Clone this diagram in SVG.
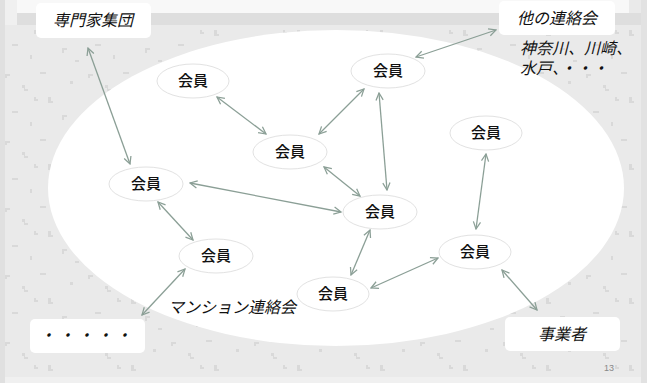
<svg xmlns="http://www.w3.org/2000/svg" width="647" height="383" viewBox="0 0 647 383">
<defs>
<style>
.node ellipse{fill:#fff;stroke:#e2e2e2;stroke-width:1}
.lbl{font-family:"Noto Sans CJK JP","Noto Sans",sans-serif;font-size:15px;font-weight:500;fill:#111;text-anchor:middle}
.it{font-family:"Noto Sans CJK JP","Noto Sans",sans-serif;font-size:16px;fill:#111}
.box rect{fill:#fff;stroke:none}
.conn line{stroke:#8b9f96;stroke-width:1.3;marker-start:url(#ah);marker-end:url(#ah)}
</style>
<marker id="ah" viewBox="0 0 10 10" refX="9" refY="5" markerWidth="9" markerHeight="9" markerUnits="userSpaceOnUse" orient="auto-start-reverse">
<path d="M1,1 L9,5 L1,9" fill="none" stroke="#8b9f96" stroke-width="1.4"/>
</marker>
<pattern id="tex" width="83" height="67" patternUnits="userSpaceOnUse">
<rect width="83" height="67" fill="#eaeaea"/>
<path d="M5,7h5v2h-3v2h-2z M22,18h3v4h3v2h-4v-3h-2z M40,5h6v2h-6z M48,30h3v4h2v2h-5z M12,44h6v2h-6z M30,55h2v4h-2z M70,14h3v3h-3z M62,48h5v2h-3v3h-2z M75,60h4v2h-4z M34,30h2v2h2v2h-4z" fill="#d9d9d9"/>
</pattern>
</defs>
<rect width="647" height="383" fill="url(#tex)"/>
<rect x="0" y="0" width="5" height="383" fill="#e0e0e0"/>
<rect x="5" y="0" width="12" height="25" fill="#f0f0f0"/>
<rect x="17" y="13" width="624" height="12" fill="#dedede"/>
<rect x="17" y="0" width="612" height="13" fill="#f8f8f8"/>
<rect x="641" y="0" width="6" height="383" fill="#e2e2e2"/>
<rect x="5" y="377" width="636" height="6" fill="#f0f0f0"/>

<ellipse cx="336" cy="188" rx="288" ry="158" fill="#fff"/>

<g id="connectors" class="conn">
<line x1="88" y1="48" x2="130" y2="164"/>
<line x1="416" y1="57" x2="496" y2="30"/>
<line x1="217" y1="97" x2="266" y2="134"/>
<line x1="319" y1="134" x2="364" y2="89"/>
<line x1="379" y1="93" x2="387" y2="190"/>
<line x1="324" y1="167" x2="360" y2="196"/>
<line x1="190" y1="183" x2="341" y2="212"/>
<line x1="158" y1="202" x2="193" y2="240"/>
<line x1="185" y1="269" x2="142" y2="315"/>
<line x1="370" y1="230" x2="351" y2="275"/>
<line x1="371" y1="288" x2="438" y2="258"/>
<line x1="486" y1="154" x2="476" y2="229"/>
<line x1="502" y1="270" x2="537" y2="310"/>
</g>

<g id="n1" class="node"><ellipse cx="193" cy="81" rx="36" ry="17"/><text class="lbl" x="193" y="86">会員</text></g>
<g id="n2" class="node"><ellipse cx="388" cy="71" rx="37" ry="17"/><text class="lbl" x="388" y="76">会員</text></g>
<g id="n3" class="node"><ellipse cx="290" cy="152" rx="37" ry="17"/><text class="lbl" x="290" y="157">会員</text></g>
<g id="n4" class="node"><ellipse cx="146" cy="184" rx="37" ry="17"/><text class="lbl" x="146" y="189">会員</text></g>
<g id="n5" class="node"><ellipse cx="380" cy="212" rx="37" ry="17"/><text class="lbl" x="380" y="217">会員</text></g>
<g id="n6" class="node"><ellipse cx="216" cy="256" rx="37" ry="17"/><text class="lbl" x="216" y="261">会員</text></g>
<g id="n7" class="node"><ellipse cx="333" cy="294" rx="36" ry="17"/><text class="lbl" x="333" y="299">会員</text></g>
<g id="n8" class="node"><ellipse cx="475" cy="252" rx="36" ry="17"/><text class="lbl" x="475" y="257">会員</text></g>
<g id="n9" class="node"><ellipse cx="486" cy="133" rx="36" ry="17"/><text class="lbl" x="486" y="138">会員</text></g>

<g id="b1" class="box"><rect x="36" y="3" width="115" height="35" rx="5"/><text class="it" transform="translate(93,26) skewX(-14)" text-anchor="middle">専門家集団</text></g>
<g id="b2" class="box"><rect x="499" y="1" width="116" height="34" rx="5"/><text class="it" transform="translate(557,24) skewX(-14)" text-anchor="middle">他の連絡会</text></g>
<g id="b3" class="box"><rect x="30" y="319" width="115" height="34" rx="5"/><text class="it" transform="translate(87,341) skewX(-14)" text-anchor="middle" font-size="14" letter-spacing="3">・・・・・</text></g>
<g id="b4" class="box"><rect x="505" y="317" width="115" height="34" rx="5"/><text class="it" transform="translate(562,340) skewX(-14)" text-anchor="middle" font-size="17">事業者</text></g>

<text class="it" transform="translate(520,54) skewX(-14)" font-size="15">神奈川、川崎、</text>
<text class="it" transform="translate(520,74) skewX(-14)" font-size="15">水戸、・・・</text>
<text class="it" transform="translate(168,313) skewX(-14)">マンション連絡会</text>
<text x="604" y="371" font-family="Liberation Sans, sans-serif" font-size="9" fill="#888">13</text>
</svg>
